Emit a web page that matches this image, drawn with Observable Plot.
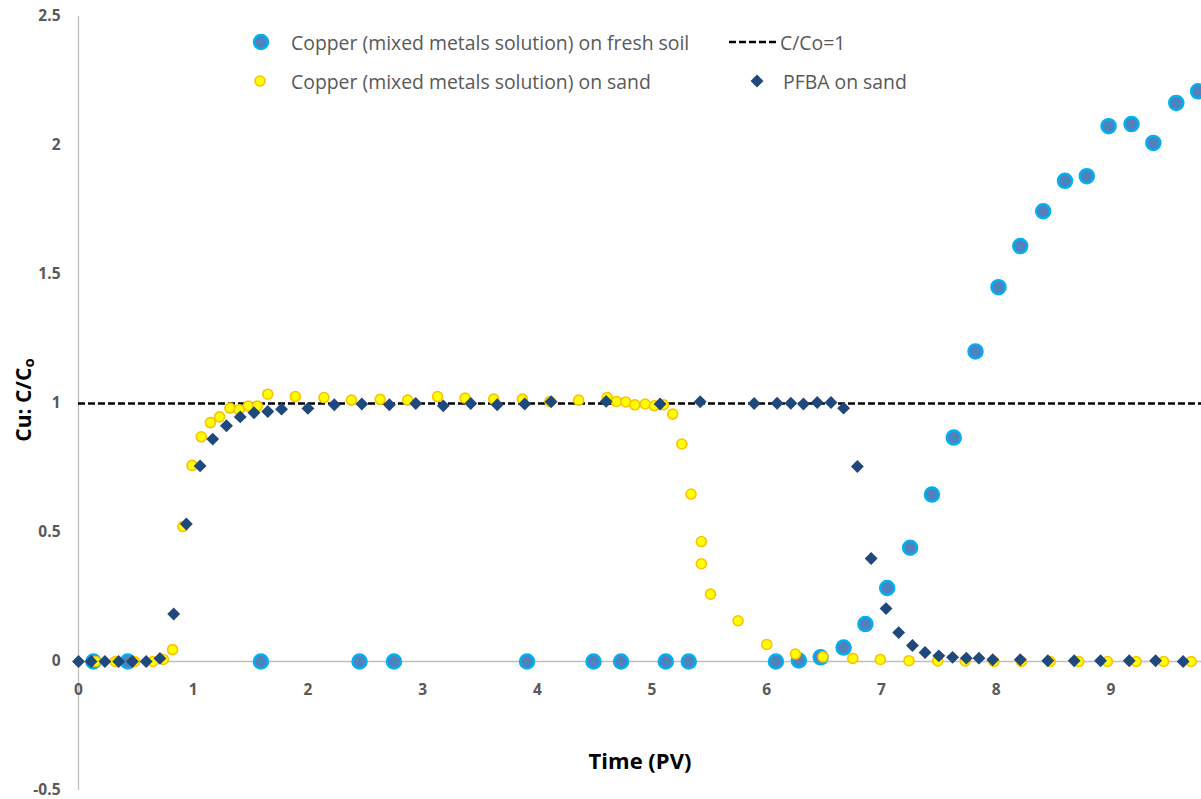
<!DOCTYPE html>
<html>
<head>
<meta charset="utf-8">
<script src="https://cdn.jsdelivr.net/npm/d3@7"></script>
<script src="https://cdn.jsdelivr.net/npm/@observablehq/plot@0.6"></script>
<style>
  html, body { margin: 0; padding: 0; background: #fff; }
  #chart { width: 1201px; height: 799px; }
</style>
</head>
<body>
<div id="chart"></div>
<script>
// Breakthrough curves: time in pore volumes (PV) vs relative concentration C/Co

// Copper (mixed metals solution) on fresh soil
const soilX = [0.13, 0.43, 1.59, 2.45, 2.75, 3.91, 4.49, 4.73, 5.12, 5.32, 6.08, 6.28, 6.47, 6.67, 6.86,
               7.05, 7.25, 7.44, 7.63, 7.82, 8.02, 8.21, 8.41, 8.60, 8.79, 8.98, 9.18, 9.37, 9.57, 9.76];
const soilY = [0, 0, 0, 0, 0, 0, 0, 0, 0, 0, 0, 0.004, 0.016, 0.054, 0.145,
               0.285, 0.441, 0.647, 0.868, 1.202, 1.451, 1.61, 1.745, 1.863, 1.881, 2.075, 2.083, 2.01, 2.165, 2.21];

// Copper (mixed metals solution) on sand
const sandX = [0.15, 0.32, 0.49, 0.65, 0.74, 0.82, 0.91, 0.99, 1.07, 1.15, 1.23, 1.32, 1.40, 1.48, 1.56, 1.65,
               1.89, 2.14, 2.38, 2.63, 2.87, 3.13, 3.37, 3.62, 3.87, 4.11, 4.36, 4.61,
               4.69, 4.77, 4.85, 4.94, 5.02, 5.10, 5.18, 5.26, 5.34, 5.43, 5.43, 5.51,
               5.75, 6.00, 6.25, 6.49, 6.75, 6.99, 7.24, 7.49, 7.73, 7.98, 8.22, 8.47, 8.72, 8.97, 9.22, 9.46, 9.70];
const sandY = [0, 0, 0, 0, 0.008, 0.046, 0.523, 0.76, 0.871, 0.926, 0.948, 0.982, 0.976, 0.99, 0.99, 1.036,
               1.027, 1.023, 1.013, 1.016, 1.013, 1.027, 1.021, 1.017, 1.017, 1.008, 1.013, 1.023,
               1.008, 1.006, 0.995, 0.998, 0.991, 0.995, 0.959, 0.843, 0.649, 0.465, 0.379, 0.261,
               0.158, 0.066, 0.029, 0.018, 0.012, 0.008, 0.003, 0.002, 0.002, 0, 0, 0, 0, 0, 0, 0, 0];

// PFBA (tracer) on sand
const pfbaX = [0, 0.11, 0.23, 0.35, 0.47, 0.59, 0.71, 0.83, 0.94, 1.06, 1.17, 1.29, 1.41, 1.53, 1.65, 1.77,
               2.00, 2.23, 2.47, 2.71, 2.94, 3.18, 3.42, 3.65, 3.89, 4.12, 4.60, 5.07, 5.42, 5.89,
               6.09, 6.21, 6.32, 6.44, 6.56, 6.67, 6.79, 6.91, 7.04, 7.15, 7.27, 7.38, 7.50, 7.62,
               7.74, 7.85, 7.97, 8.21, 8.45, 8.68, 8.91, 9.16, 9.39, 9.63];
const pfbaY = [0, 0, 0, 0, 0, 0, 0.012, 0.184, 0.533, 0.758, 0.862, 0.914, 0.948, 0.964, 0.969, 0.978,
               0.981, 0.995, 0.998, 0.995, 1.0, 0.991, 1.0, 0.995, 0.998, 1.007, 1.008, 0.998, 1.007, 1.0,
               1.001, 1.001, 0.998, 1.004, 1.004, 0.982, 0.756, 0.399, 0.205, 0.112, 0.062, 0.035, 0.022, 0.016,
               0.013, 0.013, 0.007, 0.007, 0.003, 0.003, 0.003, 0.003, 0.003, 0];

// Reference level C/Co = 1
const refLevel = [1];

// Axis tick labels
const xTicks = [0, 1, 2, 3, 4, 5, 6, 7, 8, 9];
const yTicks = [-0.5, 0, 0.5, 1, 1.5, 2, 2.5];

const zip = (xs, ys) => xs.map((x, i) => ({x, y: ys[i]}));
const soil = zip(soilX, soilY);
const sand = zip(sandX, sandY);
const pfba = zip(pfbaX, pfbaY);

const FONT = "'Open Sans', 'Noto Sans', sans-serif";
const TICK_GREY = "#595959";
const DASH = "7,3";
const DIAMOND_R = 5.8;

const svg = Plot.plot({
  width: 1201,
  height: 799,
  marginLeft: 78,
  marginRight: 0,
  marginTop: 16,
  marginBottom: 9,
  x: {domain: [0, 9.79], axis: null},
  y: {domain: [-0.5, 2.5], axis: null},
  style: {fontFamily: FONT, background: "#fff", overflow: "visible"},
  marks: [
    Plot.ruleX([0], {stroke: "#bfbfbf", strokeWidth: 1.3}),
    Plot.ruleY([0], {stroke: "#bfbfbf", strokeWidth: 1.3}),
    Plot.ruleY(refLevel, {stroke: "#000", strokeWidth: 2.5, strokeDasharray: DASH}),
    Plot.axisY(yTicks, {
      label: null, tickSize: 0, tickPadding: 18, tickFormat: d => String(d),
      fontSize: 15.5, fontWeight: "bold", color: TICK_GREY
    }),
    Plot.text(xTicks, {
      x: d => d, y: () => 0, dy: 29, text: d => String(d),
      fontSize: 15.5, fontWeight: "bold", fill: TICK_GREY
    }),
    Plot.dot(soil, {x: "x", y: "y", r: 7, fill: "#4f81bd", stroke: "#00b0f0", strokeWidth: 2.5}),
    Plot.dot(sand, {x: "x", y: "y", r: 5, fill: "#ffff00", stroke: "#ffc000", strokeWidth: 1.6}),
    Plot.dot(pfba, {x: "x", y: "y", r: DIAMOND_R, symbol: "diamond2", fill: "#1f497d", stroke: "none"})
  ]
});

const root = d3.select(svg);

// Axis titles
const yTitle = root.append("text")
  .attr("transform", "translate(23,400) rotate(-90)")
  .attr("text-anchor", "middle")
  .attr("dominant-baseline", "central")
  .attr("font-family", FONT)
  .attr("font-size", 21)
  .attr("font-weight", "bold")
  .attr("fill", "#000");
yTitle.append("tspan").text("Cu: C/C");
yTitle.append("tspan").attr("font-size", 15).attr("dy", 5).text("o");

root.append("text")
  .attr("x", 640).attr("y", 760)
  .attr("text-anchor", "middle")
  .attr("dominant-baseline", "central")
  .attr("font-family", FONT)
  .attr("font-size", 22)
  .attr("font-weight", "bold")
  .attr("fill", "#000")
  .text("Time (PV)");

// Legend
const lg = root.append("g")
  .attr("font-family", FONT)
  .attr("font-size", 19.4)
  .attr("text-anchor", "start")
  .attr("fill", TICK_GREY);

function legendLabel(x, y, label) {
  lg.append("text").attr("x", x).attr("y", y)
    .attr("text-anchor", "start")
    .attr("dominant-baseline", "central")
    .text(label);
}

lg.append("circle").attr("cx", 261).attr("cy", 42).attr("r", 7)
  .attr("fill", "#4f81bd").attr("stroke", "#00b0f0").attr("stroke-width", 2.5);
legendLabel(291, 42, "Copper (mixed metals solution) on fresh soil");

lg.append("circle").attr("cx", 260).attr("cy", 81).attr("r", 5)
  .attr("fill", "#ffff00").attr("stroke", "#ffc000").attr("stroke-width", 1.6);
legendLabel(291, 81, "Copper (mixed metals solution) on sand");

lg.append("line").attr("x1", 729).attr("x2", 779).attr("y1", 42).attr("y2", 42)
  .attr("stroke", "#000").attr("stroke-width", 2.5).attr("stroke-dasharray", DASH);
legendLabel(780, 42, "C/Co=1");

lg.append("path").attr("transform", "translate(757,81)")
  .attr("d", d3.symbol(d3.symbolDiamond2, Math.PI * DIAMOND_R * DIAMOND_R)())
  .attr("fill", "#1f497d");
legendLabel(783, 81, "PFBA on sand");

document.getElementById("chart").appendChild(svg);
</script>
</body>
</html>
